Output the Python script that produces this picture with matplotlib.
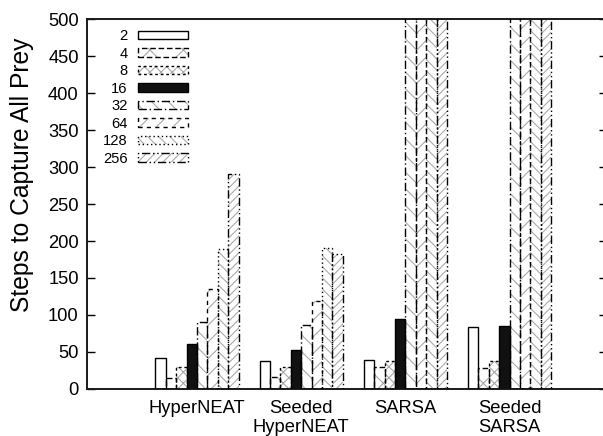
import numpy as np
import matplotlib
matplotlib.use('Agg')
import matplotlib.pyplot as plt
import matplotlib.patches as mpatches

plt.rcParams['font.family'] = ['Liberation Sans', 'DejaVu Sans']
plt.rcParams['hatch.linewidth'] = 0.8

# data (bars above 500 run off the top of the chart)
methods = ['HyperNEAT', 'Seeded\nHyperNEAT', 'SARSA', 'Seeded\nSARSA']
sizes = ['2', '4', '8', '16', '32', '64', '128', '256']
hyperneat = [41, 15, 30, 61, 90, 135, 189, 291]
seeded_hyperneat = [38, 16, 29, 53, 86, 119, 191, 183]
sarsa = [39, 30, 38, 94, 600, 600, 600, 600]
seeded_sarsa = [84, 28, 37, 85, 600, 600, 600, 600]

vals = np.array([hyperneat, seeded_hyperneat, sarsa, seeded_sarsa])

# gnuplot-ish fill patterns and border dash types
hatches = ['', 'x', 'xxx', '', '\\\\', '//', '\\\\\\', '////']
faces = ['white', 'white', 'white', '#111111', 'white', 'white', 'white', 'white']
styles = ['-', (0, (4, 2)), (0, (2, 2)), '-', (0, (6, 2, 1, 2)),
          (0, (3, 3)), (0, (1, 2)), (0, (6, 2, 1, 2, 1, 2))]
hatch_col = '#aaaaaa'

fig = plt.figure(figsize=(6.03, 4.36), dpi=100)
ax = fig.add_axes([87/603, 1 - 388.7/436, 520/603, (388.7 - 19.5)/436])

x = np.arange(len(methods))
w = 0.1
handles = []
for j in range(len(sizes)):
    pos = x + (j - 3.5) * w
    ax.bar(pos, vals[:, j], w, color=faces[j], edgecolor=hatch_col,
           hatch=hatches[j], linewidth=0, zorder=2)
    ax.bar(pos, vals[:, j], w, color='none', edgecolor='black',
           linestyle=styles[j], linewidth=1.0, zorder=3)
    p1 = mpatches.Patch(facecolor=faces[j], edgecolor=hatch_col, hatch=hatches[j], linewidth=0)
    p2 = mpatches.Patch(facecolor='none', edgecolor='black', linestyle=styles[j], linewidth=1.0)
    handles.append((p1, p2))

ax.set_xlim(-1.056, 3.935)
ax.set_ylim(0, 500)
ax.set_yticks(np.arange(0, 501, 50))
ax.set_xticks(x)
ax.set_xticklabels(methods, fontsize=13.2)
for lbl in ax.get_xticklabels():
    lbl.set_linespacing(1.15)
ax.tick_params(axis='x', length=0, pad=8)
ax.tick_params(axis='y', direction='in', length=6, width=1, labelsize=13.2, pad=6,
               right=True)
for s in ax.spines.values():
    s.set_linewidth(1.4)
    s.set_color('#1a1a1a')

fig.text(22/603, 1 - 175/436, 'Steps to Capture All Prey', rotation=90,
         fontsize=17.7, ha='center', va='center')

leg = ax.legend(handles, sizes, loc='upper right', bbox_to_anchor=(188/603, 1 - 29/436),
                bbox_transform=fig.transFigure, frameon=False, markerfirst=False,
                fontsize=10.6, handlelength=3.4, handleheight=0.5, labelspacing=0.24,
                handletextpad=0.7, borderpad=0, borderaxespad=0)

fig.savefig('out.png', dpi=100)
